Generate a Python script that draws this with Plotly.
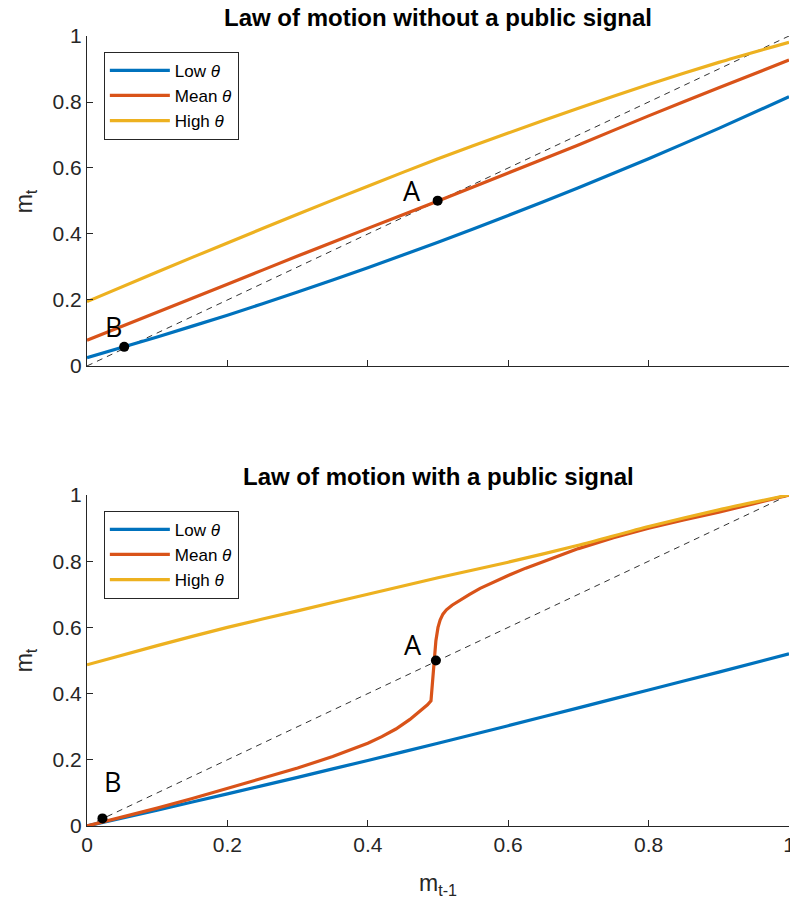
import plotly.graph_objects as go

# ---------- data ----------
x_grid = [0.0, 0.1, 0.2, 0.3, 0.4, 0.5, 0.6, 0.7, 0.8, 0.9, 1.0]

# top panel: without a public signal
top_low = [0.025, 0.088, 0.154, 0.224, 0.298, 0.375, 0.456, 0.540, 0.628, 0.720, 0.816]
top_mean = [0.078, 0.163, 0.248, 0.333, 0.417, 0.500, 0.585, 0.670, 0.758, 0.843, 0.927]
top_high = [0.195, 0.285, 0.373, 0.460, 0.545, 0.628, 0.706, 0.781, 0.853, 0.920, 0.981]

# bottom panel: with a public signal
bot_low = [0.0, 0.048, 0.097, 0.147, 0.198, 0.250, 0.303, 0.357, 0.411, 0.465, 0.520]
bot_high = [0.487, 0.545, 0.600, 0.650, 0.700, 0.750, 0.797, 0.848, 0.905, 0.955, 1.0]
bot_mean_x = [0.0, 0.05, 0.1, 0.15, 0.2, 0.25, 0.3, 0.35, 0.4, 0.42, 0.44, 0.46, 0.475,
              0.485, 0.490, 0.492, 0.494, 0.497, 0.500, 0.503, 0.507, 0.512, 0.520,
              0.530, 0.545, 0.560, 0.580, 0.600, 0.625, 0.650, 0.700, 0.750, 0.800,
              0.850, 0.900, 0.950, 1.0]
bot_mean_y = [0.0, 0.026, 0.054, 0.083, 0.113, 0.143, 0.175, 0.210, 0.250, 0.270, 0.293,
              0.322, 0.348, 0.366, 0.378, 0.440, 0.500, 0.560, 0.600, 0.622, 0.640,
              0.653, 0.667, 0.681, 0.700, 0.718, 0.738, 0.757, 0.779, 0.799, 0.838,
              0.871, 0.900, 0.925, 0.948, 0.974, 1.0]

diag = [0.0, 1.0]

# equilibrium points and labels
top_pts_x = [0.4995, 0.053]
top_pts_y = [0.501, 0.058]
top_lbl_x = [0.4625, 0.0375]
top_lbl_y = [0.533, 0.119]
bot_pts_x = [0.497, 0.022]
bot_pts_y = [0.500, 0.023]
bot_lbl_x = [0.465, 0.036]
bot_lbl_y = [0.547, 0.134]
pt_labels = ["A", "B"]

series_names = ["Low <i>θ</i>", "Mean <i>θ</i>", "High <i>θ</i>"]
colors = ["#0072BD", "#D95319", "#EDB120"]

ticks = [0, 0.2, 0.4, 0.6, 0.8, 1]
tick_text = ["0", "0.2", "0.4", "0.6", "0.8", "1"]

# ---------- figure ----------
fig = go.Figure()
FONT = "Liberation Sans"
AX = "#262626"

# dashed 45-degree lines
for xa, ya in (("x", "y"), ("x2", "y2")):
    fig.add_trace(go.Scatter(x=diag, y=diag, mode="lines", xaxis=xa, yaxis=ya,
                             line=dict(color="#333333", width=1, dash="6px,5px"),
                             showlegend=False, hoverinfo="skip"))

for name, yv, c in zip(series_names, [top_low, top_mean, top_high], colors):
    fig.add_trace(go.Scatter(x=x_grid, y=yv, mode="lines", name=name, xaxis="x", yaxis="y",
                             line=dict(color=c, width=3.2, shape="spline", smoothing=0.6),
                             legend="legend"))

fig.add_trace(go.Scatter(x=x_grid, y=bot_low, mode="lines", name=series_names[0],
                         xaxis="x2", yaxis="y2",
                         line=dict(color=colors[0], width=3.2, shape="spline", smoothing=0.6),
                         legend="legend2"))
fig.add_trace(go.Scatter(x=bot_mean_x, y=bot_mean_y, mode="lines", name=series_names[1],
                         xaxis="x2", yaxis="y2", line=dict(color=colors[1], width=3.2),
                         legend="legend2"))
fig.add_trace(go.Scatter(x=x_grid, y=bot_high, mode="lines", name=series_names[2],
                         xaxis="x2", yaxis="y2",
                         line=dict(color=colors[2], width=3.2, shape="spline", smoothing=0.6),
                         legend="legend2"))

# equilibrium markers
fig.add_trace(go.Scatter(x=top_pts_x, y=top_pts_y, mode="markers", xaxis="x", yaxis="y",
                         marker=dict(color="black", size=10), showlegend=False,
                         cliponaxis=False))
fig.add_trace(go.Scatter(x=bot_pts_x, y=bot_pts_y, mode="markers", xaxis="x2", yaxis="y2",
                         marker=dict(color="black", size=10), showlegend=False,
                         cliponaxis=False))

annotations = []
for lx, ly, t in zip(top_lbl_x, top_lbl_y, pt_labels):
    annotations.append(dict(x=lx, y=ly, xref="x", yref="y", text=t, showarrow=False,
                            xanchor="center", yanchor="middle",
                            font=dict(family="Open Sans", size=27, color="black")))
for lx, ly, t in zip(bot_lbl_x, bot_lbl_y, pt_labels):
    annotations.append(dict(x=lx, y=ly, xref="x2", yref="y2", text=t, showarrow=False,
                            xanchor="center", yanchor="middle",
                            font=dict(family="Open Sans", size=27, color="black")))

# titles and axis labels
annotations += [
    dict(x=0.5, y=1.024, xref="paper", yref="paper", text="<b>Law of motion without a public signal</b>",
         showarrow=False, xanchor="center", yanchor="middle",
         font=dict(family=FONT, size=24, color="black")),
    dict(x=0.5, y=0.443, xref="paper", yref="paper", text="<b>Law of motion with a public signal</b>",
         showarrow=False, xanchor="center", yanchor="middle",
         font=dict(family=FONT, size=24, color="black")),
    dict(x=-0.088, y=0.791, xref="paper", yref="paper", text="m<sub>t</sub>", textangle=-90,
         showarrow=False, xanchor="center", yanchor="middle",
         font=dict(family=FONT, size=23, color=AX)),
    dict(x=-0.088, y=0.21, xref="paper", yref="paper", text="m<sub>t</sub>", textangle=-90,
         showarrow=False, xanchor="center", yanchor="middle",
         font=dict(family=FONT, size=23, color=AX)),
    dict(x=0.5, y=-0.074, xref="paper", yref="paper", text="m<sub>t-1</sub>",
         showarrow=False, xanchor="center", yanchor="middle",
         font=dict(family=FONT, size=23, color=AX)),
]

axis_common = dict(range=[0, 1], tickvals=ticks, ticktext=tick_text, ticks="inside",
                   ticklen=6, tickcolor=AX, showline=True, linecolor=AX, linewidth=1,
                   showgrid=False, zeroline=False, automargin=False,
                   ticklabeloverflow="allow",
                   tickfont=dict(family=FONT, size=21, color=AX))

top_dom = [0.5823, 1.0]
bot_dom = [0.0, 0.419]

fig.update_layout(
    width=790, height=903,
    margin=dict(l=87, r=1, t=36, b=77),
    paper_bgcolor="white", plot_bgcolor="white",
    xaxis=dict(domain=[0, 1], anchor="y", showticklabels=False, **axis_common),
    yaxis=dict(domain=top_dom, anchor="x", **axis_common),
    xaxis2=dict(domain=[0, 1], anchor="y2", **axis_common),
    yaxis2=dict(domain=bot_dom, anchor="x2", **axis_common),
    annotations=annotations,
    legend=dict(x=0.024, y=0.98, xanchor="left", yanchor="top", bgcolor="white",
                bordercolor=AX, borderwidth=1, font=dict(family=FONT, size=17, color="black"),
                tracegroupgap=0, itemwidth=60),
    legend2=dict(x=0.024, y=0.399, xanchor="left", yanchor="top", bgcolor="white",
                 bordercolor=AX, borderwidth=1, font=dict(family=FONT, size=17, color="black"),
                 tracegroupgap=0, itemwidth=60),
    showlegend=True,
)

fig.write_html("out.html", config={"displayModeBar": False})
